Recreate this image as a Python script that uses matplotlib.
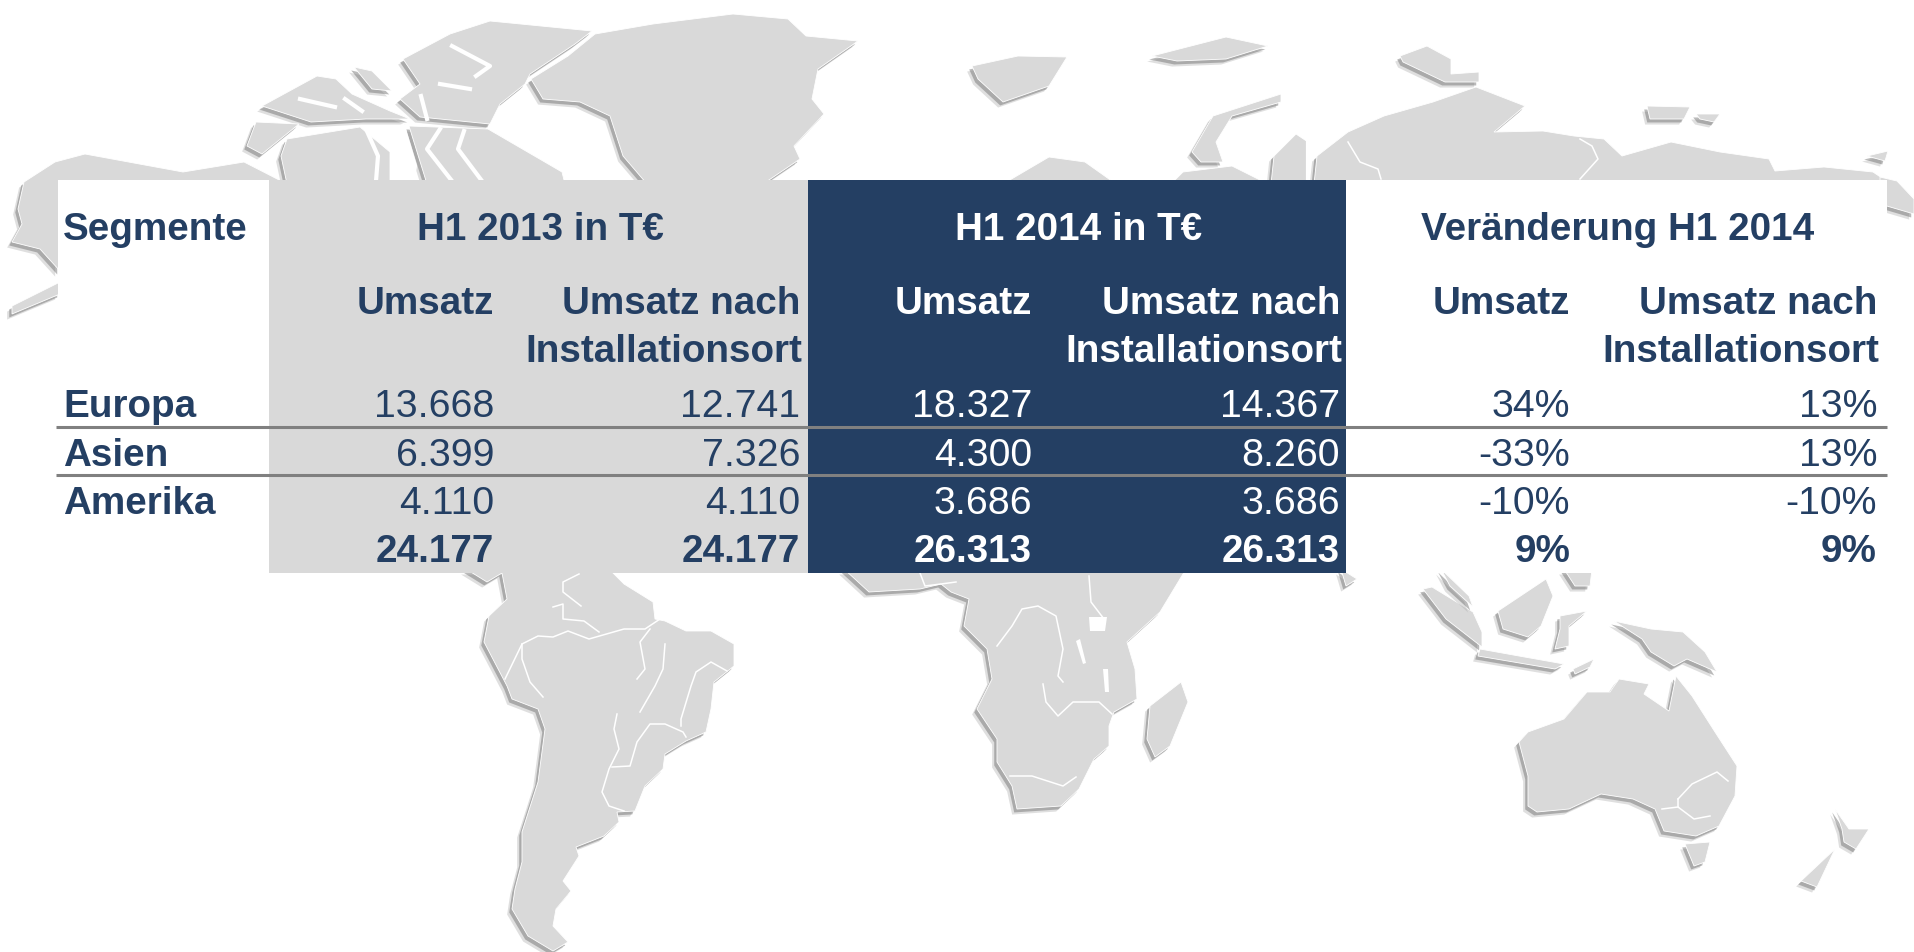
import matplotlib
matplotlib.use('Agg')
import matplotlib.pyplot as plt
import matplotlib.patheffects as pe
from matplotlib.patches import Polygon, Rectangle

plt.rcParams['font.family'] = ['Liberation Sans', 'DejaVu Sans']

NAVY = '#243f63'
GRAY = '#d9d9d9'

# table content
segments = ['Europa', 'Asien', 'Amerika', '']
umsatz_13 = ['13.668', '6.399', '4.110', '24.177']
install_13 = ['12.741', '7.326', '4.110', '24.177']
umsatz_14 = ['18.327', '4.300', '3.686', '26.313']
install_14 = ['14.367', '8.260', '3.686', '26.313']
change_umsatz = ['34%', '-33%', '-10%', '9%']
change_install = ['13%', '13%', '-10%', '9%']
group_labels = ['H1 2013 in T€', 'H1 2014 in T€', 'Veränderung H1 2014']

# background map, outlines traced in image pixels
greenland = [(595,35),(653,25),(733,15),(788,20),(806,37),(858,42),(818,70),(812,100),(824,115),(794,147),(800,160),(763,185),(647,185),(623,157),(610,117),(580,103),(543,100),(531,80),(568,57)]
ellesmere = [(592,32),(490,22),(450,35),(403,60),(420,85),(400,100),(420,118),(490,125),(500,105),(525,85),(530,75),(575,45)]
meighen = [(354,68),(372,72),(392,92),(372,90)]
devon = [(262,107),(317,77),(336,80),(352,95),(390,112),(410,120),(366,120),(311,123)]
banks = [(247,147),(256,123),(299,125),(262,155)]
victoria = [(287,140),(360,128),(390,153),(390,185),(287,185),(281,157)]
baffin = [(409,127),(488,130),(562,173),(565,185),(427,185)]
alaska = [(24,183),(55,163),(85,155),(183,173),(244,163),(287,185),(60,185),(60,272),(40,250),(12,243),(22,225),(18,210)]
aleutian = [(12,307),(60,283),(60,295),(12,315)]
s_america = [(466,570),(487,583),(502,574),(507,600),(489,617),(484,643),(507,687),(512,700),(538,710),(545,730),(538,783),(522,833),(522,863),(515,890),(512,910),(528,937),(553,952),(568,943),(553,927),(556,910),(571,892),(563,882),(579,857),(576,848),(604,837),(619,823),(617,813),(635,812),(645,787),(663,770),(665,755),(686,742),(706,733),(711,710),(714,683),(734,667),(734,645),(711,632),(686,632),(665,622),(655,620),(653,603),(624,585),(609,570)]
africa = [(844,570),(869,593),(920,590),(941,585),(951,593),(969,600),(964,627),(987,650),(992,680),(977,710),(997,740),(997,763),(1012,787),(1017,810),(1061,807),(1079,790),(1094,760),(1109,747),(1109,727),(1114,713),(1137,700),(1135,670),(1127,643),(1160,613),(1186,570)]
madagascar = [(1150,707),(1181,683),(1188,703),(1170,747),(1155,758),(1147,740)]
australia = [(1519,743),(1528,733),(1564,720),(1587,693),(1610,693),(1619,680),(1649,685),(1644,695),(1669,712),(1676,677),(1692,697),(1715,733),(1737,767),(1735,797),(1719,827),(1696,837),(1664,832),(1655,810),(1633,800),(1601,795),(1569,810),(1537,813),(1528,807),(1528,777)]
tasmania = [(1685,845),(1710,843),(1705,863),(1694,867)]
nz_north = [(1835,810),(1849,830),(1869,830),(1856,850),(1844,843),(1842,830)]
nz_south = [(1835,850),(1817,888),(1801,882)]
new_guinea = [(1614,622),(1651,630),(1683,633),(1705,653),(1717,673),(1687,660),(1674,667),(1651,653),(1642,640)]
sumatra = [(1423,590),(1432,588),(1473,613),(1482,633),(1482,648),(1446,620)]
java = [(1480,650),(1519,657),(1564,665),(1555,670),(1478,657)]
borneo = [(1498,612),(1546,580),(1553,597),(1541,627),(1528,638),(1503,630)]
malaya = [(1441,570),(1469,597),(1473,608),(1450,587)]
sulawesi = [(1560,617),(1587,612),(1569,627),(1569,647),(1555,650),(1560,630)]
philippines = [(1564,570),(1592,570),(1590,587),(1575,587)]
timor = [(1573,670),(1594,660),(1590,668),(1575,675)]
sri_lanka = [(1341,570),(1357,580),(1346,587)]
svalbard = [(972,67),(1018,57),(1067,58),(1049,87),(1003,103),(978,80)]
franz_josef = [(1152,57),(1226,38),(1268,47),(1226,60),(1177,62)]
novaya = [(1192,153),(1213,117),(1281,95),(1281,103),(1232,117),(1216,143),(1223,163),(1201,163)]
severnaya = [(1400,57),(1427,47),(1451,60),(1451,75),(1479,73),(1479,83),(1445,83),(1403,63)]
scandinavia = [(1003,185),(1049,158),(1085,163),(1116,185)]
kola = [(1171,185),(1183,173),(1232,167),(1268,185)]
yamal = [(1271,185),(1274,157),(1296,135),(1308,143),(1308,185)]
siberia = [(1314,185),(1317,157),(1348,133),(1384,117),(1433,103),(1476,88),(1525,107),(1494,133),(1543,132),(1574,137),(1604,140),(1622,157),(1671,143),(1720,153),(1769,160),(1775,172),(1824,168),(1873,173),(1891,185)]
chukotka = [(1880,178),(1897,182),(1914,200),(1914,215),(1880,205)]
new_siberian = [(1647,107),(1690,108),(1684,120),(1650,120)]
new_siberian2 = [(1696,115),(1720,115),(1714,123),(1700,120)]
wrangel = [(1867,157),(1888,152),(1885,162)]
land = [greenland, ellesmere, meighen, devon, banks, victoria, baffin, alaska, aleutian, s_america, africa,
        madagascar, australia, tasmania, nz_north, nz_south, new_guinea, sumatra, java, borneo,
        malaya, sulawesi, philippines, timor, sri_lanka, svalbard, franz_josef, novaya, severnaya,
        scandinavia, kola, yamal, siberia, chukotka, new_siberian, new_siberian2, wrangel]

# white borders and rivers on top of the land
borders = [
    [(505,680),(522,645),(538,637),(553,638),(568,632),(589,640),(624,630),(645,630),(660,620)],
    [(522,645),(522,660),(530,683),(543,698)],
    [(579,575),(563,583),(563,593),(581,607)],
    [(553,608),(563,605),(563,620),(584,622),(599,633)],
    [(650,630),(640,643),(645,670),(637,680)],
    [(665,645),(663,670),(655,687),(640,713)],
    [(727,672),(711,663),(696,673),(691,687),(681,720),(681,727)],
    [(617,715),(614,730),(619,750),(609,770),(602,793),(609,807),(624,812)],
    [(612,768),(630,767),(637,743),(650,725),(665,725),(683,733),(686,738)],
    [(997,647),(1012,627),(1022,610),(1038,607),(1056,617),(1063,650),(1058,677),(1063,683)],
    [(1043,685),(1046,703),(1058,717),(1073,703),(1099,703),(1112,715)],
    [(1010,777),(1032,777),(1063,787),(1076,778)],
    [(1089,577),(1091,603),(1104,620)],
    [(920,574),(925,587),(941,585),(956,583)],
    [(1678,800),(1692,785),(1717,773),(1728,782)],
    [(1678,800),(1678,808),(1694,820),(1710,817)],
    [(1662,810),(1678,808)],
    [(1348,143),(1360,163),(1378,170),(1381,180)],
    [(1580,180),(1598,160),(1592,147),(1580,140)],
]
# wider white channels between the arctic islands
sounds = [
    [(366,130),(378,157),(376,182)],
    [(403,127),(415,167),(412,182)],
    [(440,130),(427,150),(452,182)],
    [(464,132),(458,150),(482,182)],
    [(421,97),(427,120)],
    [(452,47),(490,67),(476,77)],
    [(440,85),(470,90)],
    [(300,100),(335,108)],
    [(345,100),(362,112)],
    [(1308,140),(1308,182)],
]
lakes = [[(1089,618),(1107,618),(1105,632),(1090,632)],
         [(1076,642),(1080,640),(1086,664),(1083,665)],
         [(1103,670),(1108,670),(1109,693),(1105,693)]]

# table geometry in pixels
col_edges = [58, 269, 808, 1346, 1887]
table_top, table_bottom = 181, 574
rule_rows = [428, 476]
col_right = [494, 800, 1032, 1340, 1570, 1877]
group_x = [540, 1079, 1618]
header_y, sub_y, sub2_y = 240, 314, 362
row_y = [417, 466, 514, 562]
FS_BOLD = 27.8
FS_NORM = 28.3


def main():
    fig = plt.figure(figsize=(19.14, 9.53), dpi=100)
    ax = fig.add_axes([0, 0, 1, 1])
    ax.set_xlim(0, 1914)
    ax.set_ylim(953, 0)
    ax.axis('off')

    shadow = [pe.SimplePatchShadow(offset=(-3.5, -4), shadow_rgbFace='#b0b0b0', alpha=0.4),
              pe.SimplePatchShadow(offset=(-2, -2.5), shadow_rgbFace='#777777', alpha=0.5),
              pe.Normal()]
    for shape in land:
        ax.add_patch(Polygon(shape, closed=True, fc=GRAY, ec='white', lw=0.6,
                             path_effects=shadow, zorder=1))
    for line in borders:
        ax.plot(*zip(*line), color='white', lw=1.1, zorder=2)
    for line in sounds:
        ax.plot(*zip(*line), color='white', lw=3, zorder=2)
    for lake in lakes:
        ax.add_patch(Polygon(lake, closed=True, fc='white', ec='none', zorder=2))

    # table background
    fills = ['white', GRAY, NAVY, 'white']
    for i, fill in enumerate(fills):
        ax.add_patch(Rectangle((col_edges[i], table_top), col_edges[i + 1] - col_edges[i],
                               table_bottom - table_top, fc=fill, ec='none', zorder=3))
    for y in rule_rows:
        ax.plot([56, 1887], [y, y], color='#808080', lw=2.2, zorder=4, solid_capstyle='butt')

    ax.text(63, header_y, 'Segmente', color=NAVY, fontsize=FS_BOLD, fontweight='bold',
            ha='left', va='baseline', zorder=5)
    group_colors = [NAVY, 'white', NAVY]
    for x, label, c in zip(group_x, group_labels, group_colors):
        ax.text(x, header_y, label, color=c, fontsize=FS_BOLD, fontweight='bold',
                ha='center', va='baseline', zorder=5)

    columns = [umsatz_13, install_13, umsatz_14, install_14, change_umsatz, change_install]
    col_colors = [NAVY, NAVY, 'white', 'white', NAVY, NAVY]
    for j, (values, x, c) in enumerate(zip(columns, col_right, col_colors)):
        ax.text(x, sub_y, 'Umsatz nach' if j % 2 else 'Umsatz', color=c, fontsize=FS_BOLD,
                fontweight='bold', ha='right', va='baseline', zorder=5)
        if j % 2:
            ax.text(x + 2, sub2_y, 'Installationsort', color=c, fontsize=FS_BOLD,
                    fontweight='bold', ha='right', va='baseline', zorder=5)
        for i, v in enumerate(values):
            ax.text(x, row_y[i], v, color=c,
                    fontsize=FS_BOLD if i == 3 else FS_NORM,
                    fontweight='bold' if i == 3 else 'normal',
                    ha='right', va='baseline', zorder=5)

    for name, y in zip(segments, row_y):
        ax.text(63, y, name, color=NAVY, fontsize=FS_BOLD, fontweight='bold',
                ha='left', va='baseline', zorder=5)

    fig.savefig('out.png', dpi=100, facecolor='white')


if __name__ == '__main__':
    main()
